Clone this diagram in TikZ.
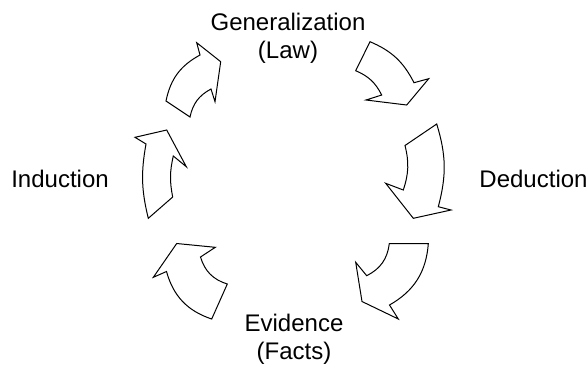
\documentclass[tikz,border=0pt]{standalone}
\usepackage{fontspec}
\setmainfont{Liberation Sans}
\tikzset{
    cyclearrow/.style = {draw=black, fill=white, line width=0.5pt, line join=miter},
    steplabel/.style  = {font=\fontsize{12}{14}\selectfont, align=center, inner sep=0pt}
}

\begin{document}
\begin{tikzpicture}[x=0.5pt, y=-0.5pt]
    \useasboundingbox (0,0) rectangle (588,366);

    \draw[cyclearrow] (370,41.7) to[bend left=20] (414,82.7) -- (428.7,78.7) -- (406.7,105)
        -- (366,100) -- (381.7,95) to[bend right=20] (355.7,70.7) -- cycle;
    \draw[cyclearrow] (436.7,124) to[bend left=16] (438.3,206.7) -- (451,210) -- (413.3,218.3)
        -- (385.7,183.3) -- (403.3,190) to[bend right=16] (405,145.5) -- cycle;
    \draw[cyclearrow] (428.3,243.7) to[bend left=28] (389.5,305) -- (398.3,319) -- (362,301.5)
        -- (355.7,262.3) -- (366.7,275.7) to[bend right=28] (389.3,243.7) -- cycle;
    \draw[cyclearrow] (211.7,319) to[bend left=28] (166.5,271.5) -- (153.3,277.3) -- (176.7,243.5)
        -- (215.3,247.3) -- (200.5,257) to[bend right=28] (227.3,284) -- cycle;
    \draw[cyclearrow] (148.3,218.3) to[bend left=12] (146,144) -- (135,137.3) -- (166.7,130)
        -- (186.3,166.7) -- (173.3,156) to[bend right=12] (172.7,197) -- cycle;
    \draw[cyclearrow] (166,101) to[bend left=25] (200,55) -- (196.7,42.7) -- (220.7,61.7)
        -- (215,101.7) -- (211,89) to[bend right=25] (190,117) -- cycle;

    \node[steplabel] (gen) at (288,38.7) {Generalization\\(Law)};
    \node[steplabel] (ded) at (533.5,179) {Deduction};
    \node[steplabel] (evi) at (294,339) {Evidence\\(Facts)};
    \node[steplabel] (ind) at (60,179) {Induction};
\end{tikzpicture}
\end{document}
